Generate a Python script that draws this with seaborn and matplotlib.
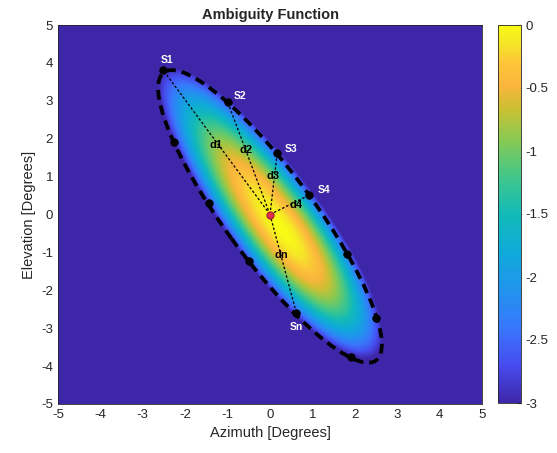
import numpy as np
import seaborn as sns
import matplotlib.pyplot as plt
from matplotlib.colors import LinearSegmentedColormap
from matplotlib.patches import Ellipse

# ---- values ----
sensor_names = ["S1", "S2", "S3", "S4", "Sn"]
sensor_az = [-2.52, -1.00, 0.17, 0.92, 0.62]
sensor_el = [3.81, 2.97, 1.62, 0.51, -2.59]

dist_names = ["d1", "d2", "d3", "d4", "dn"]
dist_az = [-1.28, -0.57, 0.07, 0.62, 0.28]
dist_el = [1.83, 1.70, 1.02, 0.25, -1.07]

other_az = [-2.26, -1.45, -0.50, 1.82, 2.51, 1.90]
other_el = [1.92, 0.30, -1.22, -1.04, -2.74, -3.77]

target = (0.0, 0.0)

# dashed boundary ellipse: center, semi axes, angle
ell_center = (0.0, -0.05)
ell_a, ell_b, ell_angle = 4.55, 1.08, -57.0

# ambiguity field shape (dB floor at -3), peak sits lower right of centre
amb_peak = (0.25, -0.35)
amb_a_upper, amb_a_lower, amb_b, amb_angle = 5.0, 4.05, 1.15, -57.0
amb_floor = -3.0

cbar_ticks = [0, -0.5, -1, -1.5, -2, -2.5, -3]
axis_ticks = [-5, -4, -3, -2, -1, 0, 1, 2, 3, 4, 5]

parula = LinearSegmentedColormap.from_list("parula", [
    (0.0, (0.2422, 0.1504, 0.6603)),
    (0.1, (0.2780, 0.3000, 0.9400)),
    (0.2, (0.2200, 0.4700, 0.9900)),
    (0.3, (0.1300, 0.5800, 0.9300)),
    (0.4, (0.0600, 0.6700, 0.8500)),
    (0.5, (0.0700, 0.7300, 0.7200)),
    (0.6, (0.2600, 0.7800, 0.5400)),
    (0.7, (0.5400, 0.7900, 0.3200)),
    (0.78, (0.8000, 0.7500, 0.2000)),
    (0.84, (0.9800, 0.7100, 0.2400)),
    (0.9, (0.9900, 0.7700, 0.2200)),
    (0.95, (0.9600, 0.8900, 0.1600)),
    (1.0, (0.9769, 0.9839, 0.0805)),
])

sns.set_style("white")
plt.rcParams['font.family'] = ['Liberation Sans', 'DejaVu Sans']
plt.rcParams['axes.unicode_minus'] = False

fig = plt.figure(figsize=(5.57, 4.53), dpi=100)
ax = fig.add_axes([58 / 557, 49 / 453, 424 / 557, 379 / 453])
cax = fig.add_axes([498 / 557, 50 / 453, 23 / 557, 378 / 453])

# field
g = np.linspace(-5, 5, 500)
X, Y = np.meshgrid(g, g)
th = np.deg2rad(amb_angle)
dx, dy = X - amb_peak[0], Y - amb_peak[1]
u = dx * np.cos(th) + dy * np.sin(th)
v = -dx * np.sin(th) + dy * np.cos(th)
a = np.where(u < 0, amb_a_upper, amb_a_lower)
r2 = (u / a) ** 2 + (v / amb_b) ** 2
Z = np.maximum(amb_floor * r2, amb_floor)

im = ax.imshow(Z, extent=[-5, 5, -5, 5], origin="lower", cmap=parula,
               vmin=-3, vmax=0, aspect="auto", interpolation="bilinear")

ax.add_patch(Ellipse(ell_center, 2 * ell_a, 2 * ell_b, angle=ell_angle,
                     fill=False, ec="black", lw=2.7, ls=(0, (2.6, 1.6))))

for sx, sy in zip(sensor_az, sensor_el):
    ax.plot([target[0], sx], [target[1], sy], color="black", lw=0.9,
            ls=(0, (2, 1.6)))

sns.scatterplot(x=sensor_az + other_az, y=sensor_el + other_el, ax=ax,
                color="black", s=30, edgecolor="black", linewidth=0.5,
                legend=False, zorder=5)
ax.plot(*target, "o", color="#e0304f", ms=5, mec="#b0203a", zorder=6)

offsets = [(3, 7), (9, 4), (10, 3), (11, 4), (0, -10)]
for name, sx, sy, off in zip(sensor_names, sensor_az, sensor_el, offsets):
    ax.annotate(name, (sx, sy), xytext=off, textcoords="offset points",
                color="white", fontsize=7.5, fontweight="bold",
                ha="center", va="center")
for name, tx, ty in zip(dist_names, dist_az, dist_el):
    ax.text(tx, ty, name, color="black", fontsize=8, ha="center",
            va="center", fontweight="bold")

ax.set_xlim(-5, 5)
ax.set_ylim(-5, 5)
ax.set_xticks(axis_ticks)
ax.set_yticks(axis_ticks)
ax.tick_params(direction="in", length=3, labelsize=9.5, colors="#262626")
for s in ax.spines.values():
    s.set_color("#262626")
    s.set_linewidth(0.6)
ax.set_xlabel("Azimuth [Degrees]", fontsize=10.5, color="#262626")
ax.set_ylabel("Elevation [Degrees]", fontsize=10.5, color="#262626")
ax.set_title("Ambiguity Function", fontsize=10.5, fontweight="bold", pad=4)

cb = fig.colorbar(im, cax=cax, ticks=cbar_ticks)
cb.ax.set_yticklabels([f"{t:g}" for t in cbar_ticks])
cb.ax.tick_params(direction="in", length=3, labelsize=9.5, colors="#262626")
cb.outline.set_linewidth(0.6)

plt.savefig("out.png", dpi=100)
